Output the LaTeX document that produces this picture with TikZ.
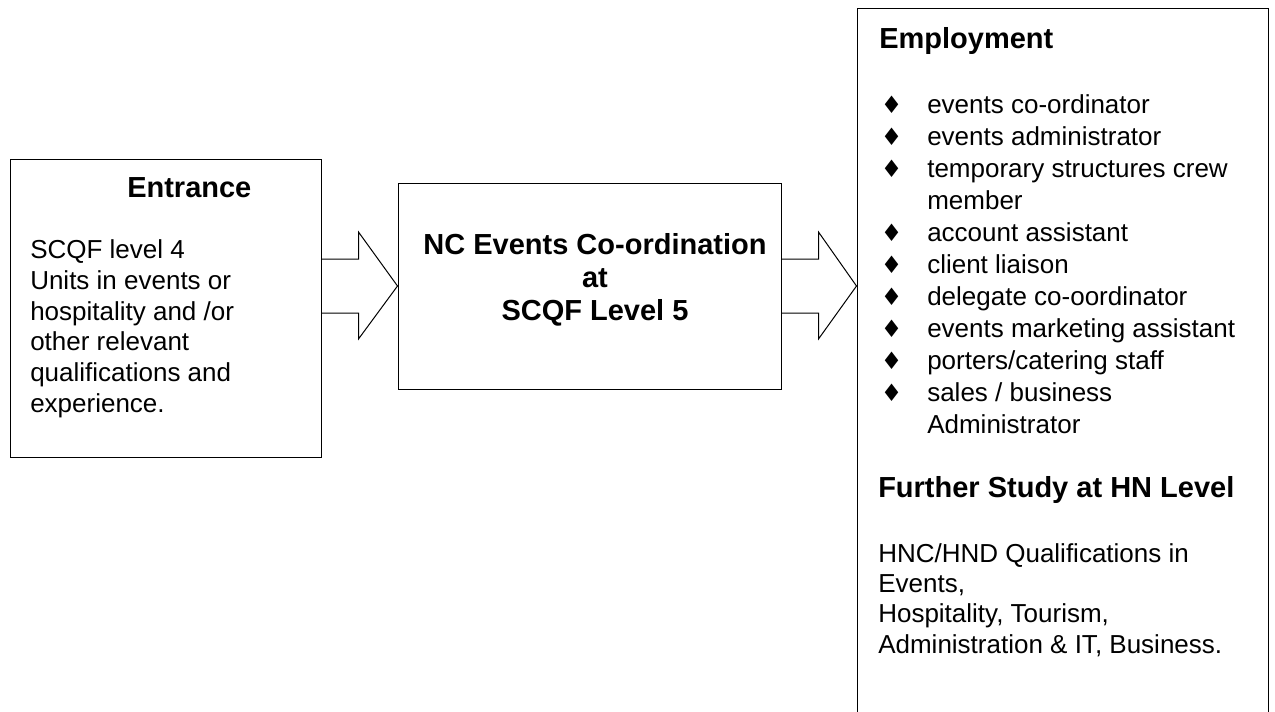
\documentclass[tikz,border=0pt]{standalone}
\usepackage{fontspec}
\setmainfont{Liberation Sans}
\newfontfamily\symfont{DejaVu Sans}
\usetikzlibrary{calc}

\newcommand{\itm}{\makebox[33.75pt][l]{\hspace*{-1pt}\symfont\fontsize{18}{18}\selectfont ♦}}
\newcommand{\itmgap}{\hspace*{33.75pt}}

\begin{document}
\begin{tikzpicture}[x=0.75pt,y=0.75pt,yscale=-1,
  panel/.style={draw, line width=0.75pt, inner sep=0pt},
  blockarrow/.style={draw, line width=0.75pt, line join=miter},
  head/.style={inner sep=0pt, font=\bfseries\fontsize{21.75}{24.75}\selectfont},
  body/.style={inner sep=0pt, align=left, font=\fontsize{19.5}{23}\selectfont}]
\useasboundingbox (0,0) rectangle (1275,711);

% Boxes
\node[panel, minimum width=233.25pt, minimum height=223.5pt] (entrance) at (165.5,308) {};
\node[panel, minimum width=287.25pt, minimum height=154.5pt] (course) at (589.5,286) {};
\node[panel, minimum width=308.25pt, minimum height=579pt] (progress) at (1062.5,394) {};

% Block arrows
\draw[blockarrow] ($(entrance.east |- course.west)+(0,-27)$) -- ($(course.west)+(-39,-27)$)
  -- ($(course.west)+(-39,-54)$) -- (course.west) -- ($(course.west)+(-39,53)$)
  -- ($(course.west)+(-39,27)$) -- ($(entrance.east |- course.west)+(0,27)$);
\draw[blockarrow] ($(course.east)+(0,-27)$) -- ($(progress.west |- course.east)+(-38,-27)$)
  -- ($(progress.west |- course.east)+(-38,-54)$) -- (progress.west |- course.east)
  -- ($(progress.west |- course.east)+(-38,53)$) -- ($(progress.west |- course.east)+(-38,27)$)
  -- ($(course.east)+(0,27)$);

% Entrance (multi-line nodes: base = last line)
\node[head, anchor=base west] (entrancetitle) at (127,197) {Entrance};
\node[body, anchor=base west] (entrancetext) at (30,412) {SCQF level 4\\Units in events or\\hospitality and /or\\other relevant\\qualifications and\\experience.};

% Course
\node[head, align=center, anchor=base] (coursetitle) at (595,320) {NC Events Co-ordination\\at\\SCQF Level 5};

% Progression
\node[head, anchor=base west] (jobstitle) at (879,48) {Employment};
\node[body, anchor=base west, font=\fontsize{19.5}{24}\selectfont] (jobs) at (882,433)
  {\itm events co-ordinator\\
   \itm events administrator\\
   \itm temporary structures crew\\
   \itmgap member\\
   \itm account assistant\\
   \itm client liaison\\
   \itm delegate co-oordinator\\
   \itm events marketing assistant\\
   \itm porters/catering staff\\
   \itm sales / business\\
   \itmgap Administrator};
\node[head, anchor=base west] (studytitle) at (878,497) {Further Study at HN Level};
\node[body, anchor=base west, font=\fontsize{19.5}{22.75}\selectfont] (study) at (878,653)
  {HNC/HND Qualifications in\\Events,\\Hospitality, Tourism,\\Administration \& IT, Business.};

\end{tikzpicture}
\end{document}
